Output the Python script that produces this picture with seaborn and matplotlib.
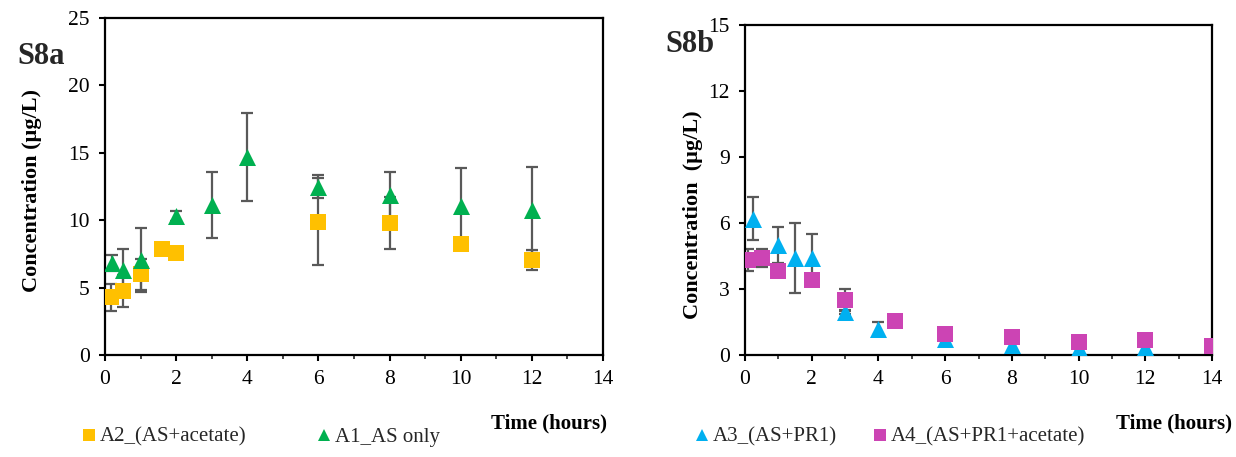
import numpy as np
import pandas as pd
import matplotlib
matplotlib.use("Agg")
import matplotlib.pyplot as plt
from matplotlib.lines import Line2D
from matplotlib.ticker import MultipleLocator
import seaborn as sns

# ---- data (panel a) ----
a1_t = [0.2, 0.5, 1, 2, 3, 4, 6, 8, 10, 12]
a1_v = [6.8, 6.3, 7.05, 10.3, 11.1, 14.7, 12.5, 11.9, 11.05, 10.75]
a1_e = [0.6, 1.6, 2.4, 0.35, 2.45, 3.25, 0.85, 1.65, 2.8, 3.2]
a2_t = [0.17, 0.5, 1, 1.6, 2, 6, 8, 10, 12]
a2_v = [4.3, 4.75, 6.0, 7.9, 7.55, 9.9, 9.8, 8.2, 7.05]
a2_e = [1.0, 1.2, 1.15, 0, 0, 3.2, 1.9, 0, 0.77]
# ---- data (panel b) ----
a3_t = [0.25, 1, 1.5, 2, 3, 4, 6, 8, 10, 12]
a3_v = [6.2, 5.0, 4.4, 4.4, 1.95, 1.2, 0.75, 0.45, 0.3, 0.35]
a3_e = [0.97, 0.8, 1.6, 1.1, 0.1, 0.3, 0, 0, 0, 0]
a4_t = [0.1, 0.5, 1, 2, 3, 4.5, 6, 8, 10, 12, 14]
a4_v = [4.3, 4.4, 3.8, 3.4, 2.5, 1.55, 0.95, 0.8, 0.6, 0.68, 0.42]
a4_e = [0.5, 0.4, 0, 0, 0.48, 0, 0, 0, 0, 0, 0]

name_a1 = "A1_AS only"
name_a2 = "A2_(AS+acetate)"
name_a3 = "A3_(AS+PR1)"
name_a4 = "A4_(AS+PR1+acetate)"

colors = {name_a1: "#00B050", name_a2: "#FFC000", name_a3: "#00B0F0", name_a4: "#CC44B4"}
markers = {name_a1: "^", name_a2: "s", name_a3: "^", name_a4: "s"}

sns.set_theme(style="white")
plt.rcParams["font.family"] = ["Liberation Serif", "DejaVu Serif"]

fig = plt.figure(figsize=(12.36, 4.57), dpi=100)
W, H = 1236, 457
axa = fig.add_axes([105 / W, (457 - 355) / H, 498 / W, 337 / H])
axb = fig.add_axes([745 / W, (457 - 355) / H, 467 / W, 330 / H])

ERR_C = "#595959"


def make_df(series):
    rows = []
    for name, t, v in series:
        for ti, vi in zip(t, v):
            rows.append({"t": ti, "v": vi, "series": name})
    return pd.DataFrame(rows)


def draw_err(ax, t, v, e):
    t = np.asarray(t, float)
    v = np.asarray(v, float)
    e = np.asarray(e, float)
    m = e > 0
    ax.errorbar(t[m], v[m], yerr=e[m], fmt="none", ecolor=ERR_C, elinewidth=1.6,
                capsize=4.5, capthick=1.6, zorder=1)


def style_axis(ax, ymax, ystep):
    ax.set_xlim(0, 14)
    ax.set_ylim(0, ymax)
    ax.xaxis.set_major_locator(MultipleLocator(2))
    ax.xaxis.set_minor_locator(MultipleLocator(1))
    ax.yaxis.set_major_locator(MultipleLocator(ystep))
    for sp in ax.spines.values():
        sp.set_visible(True)
        sp.set_color("black")
        sp.set_linewidth(1.6)
    ax.tick_params(axis="both", which="major", direction="out", length=4, width=1.5,
                   labelsize=15.5, colors="black", pad=7, bottom=True, left=True)
    ax.tick_params(axis="x", which="minor", direction="out", length=3, width=1.2, bottom=True)
    ax.grid(False)
    ax.set_facecolor("white")


# ---- panel a ----
for t, v, e in [(a1_t, a1_v, a1_e), (a2_t, a2_v, a2_e)]:
    draw_err(axa, t, v, e)
dfa = make_df([(name_a2, a2_t, a2_v), (name_a1, a1_t, a1_v)])
sns.scatterplot(data=dfa[dfa.series == name_a2], x="t", y="v", color=colors[name_a2],
                marker="s", s=135, linewidth=0, ax=axa, zorder=3, legend=False)
sns.scatterplot(data=dfa[dfa.series == name_a1], x="t", y="v", color=colors[name_a1],
                marker="^", s=150, linewidth=0, ax=axa, zorder=3, legend=False)
style_axis(axa, 25, 5)

# ---- panel b ----
for t, v, e in [(a3_t, a3_v, a3_e), (a4_t, a4_v, a4_e)]:
    draw_err(axb, t, v, e)
dfb = make_df([(name_a3, a3_t, a3_v), (name_a4, a4_t, a4_v)])
sns.scatterplot(data=dfb[dfb.series == name_a3], x="t", y="v", color=colors[name_a3],
                marker="^", s=150, linewidth=0, ax=axb, zorder=3, legend=False)
sns.scatterplot(data=dfb[dfb.series == name_a4], x="t", y="v", color=colors[name_a4],
                marker="s", s=135, linewidth=0, ax=axb, zorder=4, legend=False)
style_axis(axb, 15, 3)

# ---- labels ----
axa.set_ylabel("Concentration (µg/L)", fontsize=16, fontweight="bold", color="black")
axa.yaxis.label.set_va("center")
axa.yaxis.set_label_coords((32 - 105) / 498, (355 - 190) / 337)
axb.set_ylabel("Concentration  (µg/L)", fontsize=16, fontweight="bold", color="black")
axb.yaxis.label.set_va("center")
axb.yaxis.set_label_coords((693 - 745) / 467, (355 - 215) / 330)

for ax, xr, x0, wid, hgt in [(axa, 607, 105, 498, 337), (axb, 1232, 745, 467, 330)]:
    ax.set_xlabel("Time (hours)", fontsize=15, fontweight="bold", color="black",
                  ha="right", va="center")
    ax.xaxis.set_label_coords((xr - x0) / wid, (355 - 423) / hgt)

fig.text(17 / W, (457 - 56) / H, "S8a", fontsize=22, fontweight="bold", va="center", ha="left")
fig.text(665 / W, (457 - 45) / H, "S8b", fontsize=22, fontweight="bold", va="center", ha="left")


def legend_for(names, x_left, colspace):
    handles = [Line2D([], [], linestyle="none", marker=markers[n], color=colors[n],
                      markersize=8.5, markeredgewidth=0) for n in names]
    fig.legend(handles=handles, labels=names, loc="center left",
               bbox_to_anchor=(x_left / W, (457 - 437) / H), bbox_transform=fig.transFigure,
               ncol=2, frameon=False, fontsize=15, handlelength=0.55, handletextpad=0.25,
               columnspacing=colspace, borderpad=0, borderaxespad=0)


legend_for([name_a2, name_a1], 83, 3.45)
legend_for([name_a3, name_a4], 696, 1.8)

fig.savefig("out.png", dpi=100, facecolor="white")
